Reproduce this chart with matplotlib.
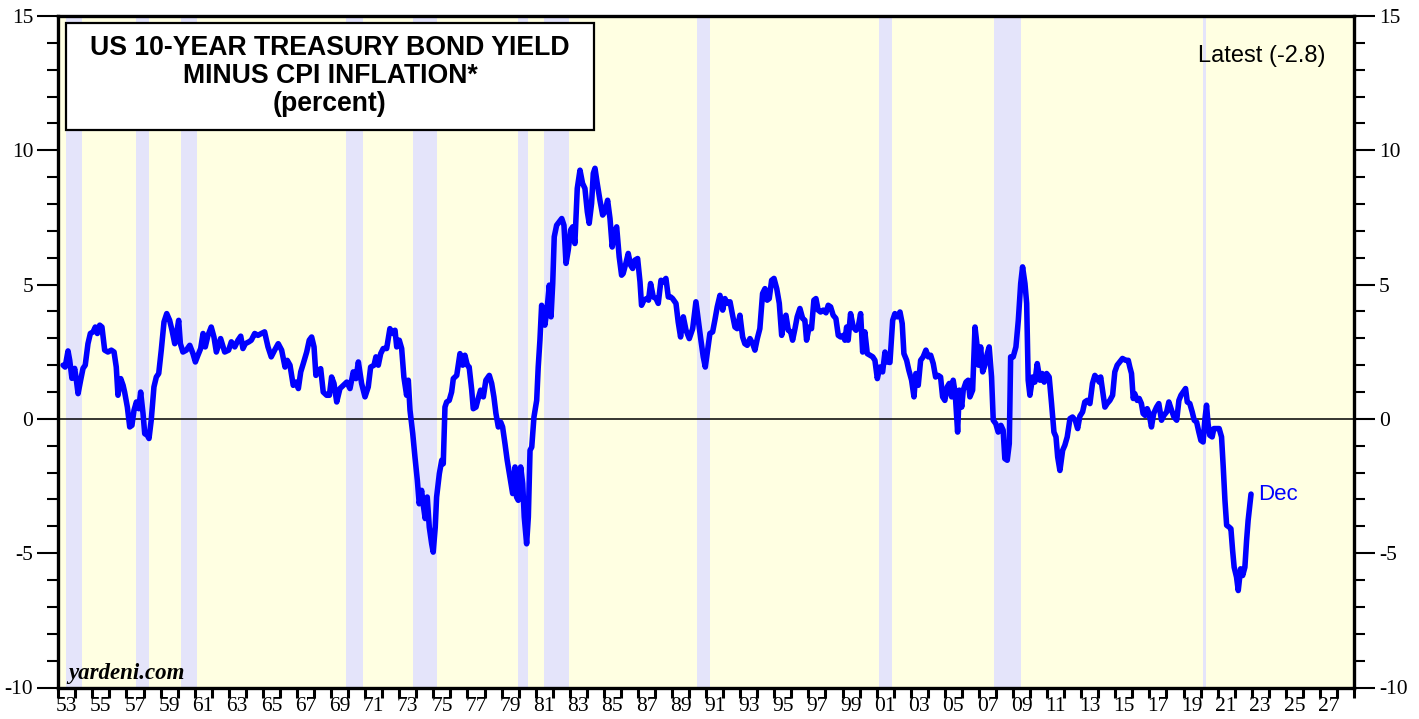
import numpy as np
import matplotlib
matplotlib.use("Agg")
import matplotlib.pyplot as plt
from matplotlib.patches import Rectangle

# ---------------- data ----------------
years = [
    1953.28, 1953.40, 1953.57, 1953.67, 1953.80, 1953.96, 1954.06, 1954.16, 1954.31, 1954.45,
    1954.58, 1954.74, 1954.88, 1955.04, 1955.17, 1955.29, 1955.43, 1955.56, 1955.72, 1955.91,
    1956.11, 1956.27, 1956.40, 1956.50, 1956.66, 1956.80, 1956.89, 1957.05, 1957.19, 1957.32,
    1957.44, 1957.58, 1957.72, 1957.83, 1957.97, 1958.07, 1958.22, 1958.32, 1958.45, 1958.61,
    1958.75, 1958.89, 1959.04, 1959.20, 1959.36, 1959.53, 1959.67, 1959.83, 1959.92, 1960.06,
    1960.16, 1960.31, 1960.51, 1960.71, 1960.90, 1961.04, 1961.19, 1961.35, 1961.49, 1961.62,
    1961.78, 1961.97, 1962.13, 1962.27, 1962.52, 1962.76, 1962.99, 1963.15, 1963.35, 1963.54,
    1963.70, 1963.83, 1963.97, 1964.18, 1964.32, 1964.52, 1964.71, 1964.91, 1965.10, 1965.30,
    1965.49, 1965.69, 1965.90, 1966.10, 1966.30, 1966.43, 1966.59, 1966.78, 1966.94, 1967.08,
    1967.22, 1967.37, 1967.57, 1967.72, 1967.86, 1968.00, 1968.11, 1968.25, 1968.39, 1968.54,
    1968.74, 1968.90, 1969.03, 1969.17, 1969.33, 1969.52, 1969.72, 1969.92, 1970.11, 1970.30,
    1970.46, 1970.60, 1970.79, 1970.99, 1971.18, 1971.32, 1971.52, 1971.63, 1971.77, 1971.91,
    1972.06, 1972.26, 1972.45, 1972.61, 1972.75, 1972.85, 1973.00, 1973.14, 1973.27, 1973.43,
    1973.53, 1973.63, 1973.79, 1973.92, 1974.06, 1974.17, 1974.31, 1974.41, 1974.52, 1974.64,
    1974.76, 1974.90, 1974.99, 1975.11, 1975.19, 1975.35, 1975.49, 1975.58, 1975.68, 1975.78,
    1975.93, 1976.07, 1976.17, 1976.37, 1976.56, 1976.72, 1976.85, 1976.99, 1977.10, 1977.25,
    1977.34, 1977.50, 1977.63, 1977.77, 1977.93, 1978.08, 1978.28, 1978.42, 1978.55, 1978.67,
    1978.81, 1978.95, 1979.06, 1979.20, 1979.33, 1979.49, 1979.65, 1979.79, 1979.88, 1979.98,
    1980.12, 1980.24, 1980.33, 1980.47, 1980.57, 1980.67, 1980.77, 1980.90, 1981.06, 1981.15,
    1981.25, 1981.35, 1981.44, 1981.54, 1981.68, 1981.80, 1981.90, 1982.00, 1982.09, 1982.23,
    1982.39, 1982.53, 1982.66, 1982.78, 1982.91, 1983.05, 1983.17, 1983.30, 1983.44, 1983.60,
    1983.75, 1983.89, 1984.03, 1984.14, 1984.28, 1984.38, 1984.48, 1984.61, 1984.77, 1984.93,
    1985.06, 1985.22, 1985.36, 1985.49, 1985.61, 1985.75, 1985.90, 1986.04, 1986.13, 1986.29,
    1986.43, 1986.57, 1986.69, 1986.82, 1986.98, 1987.12, 1987.21, 1987.35, 1987.51, 1987.62,
    1987.74, 1987.90, 1988.06, 1988.19, 1988.35, 1988.48, 1988.64, 1988.78, 1988.92, 1989.03,
    1989.23, 1989.36, 1989.50, 1989.66, 1989.82, 1990.01, 1990.21, 1990.40, 1990.54, 1990.68,
    1990.83, 1990.95, 1991.06, 1991.22, 1991.38, 1991.51, 1991.65, 1991.81, 1991.97, 1992.10,
    1992.24, 1992.40, 1992.55, 1992.69, 1992.82, 1992.98, 1993.14, 1993.27, 1993.41, 1993.57,
    1993.73, 1993.86, 1994.00, 1994.15, 1994.31, 1994.45, 1994.58, 1994.70, 1994.84, 1994.98,
    1995.14, 1995.29, 1995.43, 1995.57, 1995.68, 1995.82, 1995.96, 1996.07, 1996.21, 1996.34,
    1996.50, 1996.66, 1996.79, 1996.89, 1997.04, 1997.18, 1997.32, 1997.44, 1997.57, 1997.71,
    1997.87, 1998.03, 1998.16, 1998.30, 1998.45, 1998.61, 1998.75, 1998.89, 1999.04, 1999.14,
    1999.24, 1999.33, 1999.47, 1999.63, 1999.79, 1999.92, 2000.06, 2000.18, 2000.31, 2000.45,
    2000.61, 2000.77, 2000.90, 2001.04, 2001.19, 2001.35, 2001.49, 2001.62, 2001.78, 2001.94,
    2002.07, 2002.21, 2002.37, 2002.50, 2002.60, 2002.76, 2002.89, 2003.05, 2003.19, 2003.30,
    2003.44, 2003.58, 2003.73, 2003.89, 2004.03, 2004.17, 2004.32, 2004.46, 2004.61, 2004.75,
    2004.87, 2005.00, 2005.14, 2005.26, 2005.40, 2005.49, 2005.61, 2005.75, 2005.85, 2005.99,
    2006.08, 2006.24, 2006.37, 2006.47, 2006.63, 2006.77, 2006.90, 2006.98, 2007.10, 2007.22,
    2007.35, 2007.49, 2007.60, 2007.74, 2007.84, 2007.99, 2008.13, 2008.29, 2008.42, 2008.52,
    2008.66, 2008.78, 2008.86, 2009.01, 2009.17, 2009.31, 2009.45, 2009.56, 2009.70, 2009.80,
    2009.89, 2009.99, 2010.15, 2010.28, 2010.42, 2010.58, 2010.71, 2010.83, 2010.97, 2011.12,
    2011.26, 2011.40, 2011.52, 2011.62, 2011.75, 2011.91, 2012.04, 2012.18, 2012.34, 2012.49,
    2012.65, 2012.79, 2012.92, 2013.08, 2013.21, 2013.35, 2013.51, 2013.66, 2013.80, 2013.94,
    2014.06, 2014.14, 2014.25, 2014.39, 2014.52, 2014.68, 2014.84, 2014.97, 2015.11, 2015.26,
    2015.42, 2015.61, 2015.76, 2015.85, 2015.95, 2016.05, 2016.14, 2016.28, 2016.40, 2016.53,
    2016.63, 2016.75, 2016.87, 2016.98, 2017.12, 2017.25, 2017.42, 2017.55, 2017.71, 2017.85,
    2018.01, 2018.14, 2018.30, 2018.44, 2018.60, 2018.73, 2018.85, 2018.98, 2019.12, 2019.22,
    2019.37, 2019.51, 2019.63, 2019.77, 2019.90, 2020.02, 2020.15, 2020.25, 2020.35, 2020.44,
    2020.54, 2020.68, 2020.78, 2020.94, 2021.09, 2021.23, 2021.33, 2021.43, 2021.53, 2021.68,
    2021.78, 2021.88, 2021.97, 2022.11, 2022.21, 2022.35, 2022.47, 2022.60, 2022.70, 2022.79,
    2022.96,
]
real_yield = [
    2.00, 1.93, 2.53, 2.18, 1.51, 1.88, 1.44, 0.94, 1.44, 1.88,
    2.00, 2.80, 3.18, 3.24, 3.42, 3.18, 3.49, 3.42, 2.56, 2.49,
    2.56, 2.49, 1.93, 0.88, 1.50, 1.25, 1.00, 0.44, -0.30, -0.24,
    0.32, 0.63, 0.38, 1.00, 0.20, -0.55, -0.61, -0.73, -0.05, 1.19,
    1.56, 1.69, 2.56, 3.61, 3.92, 3.67, 3.30, 2.80, 3.11, 3.67,
    2.80, 2.49, 2.56, 2.74, 2.43, 2.12, 2.37, 2.62, 3.18, 2.68,
    3.11, 3.42, 3.05, 2.49, 2.99, 2.49, 2.56, 2.87, 2.68, 2.93,
    3.08, 2.62, 2.80, 2.87, 2.93, 3.18, 3.11, 3.18, 3.24, 2.68,
    2.31, 2.56, 2.80, 2.56, 1.93, 2.18, 2.00, 1.25, 1.37, 1.13,
    1.75, 2.06, 2.49, 2.93, 3.05, 2.68, 1.62, 1.81, 1.87, 1.00,
    0.88, 0.88, 1.56, 1.32, 0.63, 1.13, 1.25, 1.37, 1.13, 1.75,
    1.50, 2.12, 1.32, 0.82, 1.19, 1.93, 2.00, 2.31, 2.00, 2.43,
    2.62, 2.62, 3.36, 3.18, 3.30, 2.68, 2.93, 2.62, 1.56, 0.88,
    1.44, 0.32, -0.55, -1.42, -2.29, -3.16, -2.66, -3.22, -3.71, -2.91,
    -4.03, -4.65, -4.96, -4.03, -2.91, -2.04, -1.54, -1.67, 0.44, 0.63,
    0.69, 1.00, 1.50, 1.62, 2.43, 2.00, 2.37, 2.00, 1.93, 1.07,
    0.38, 0.44, 0.76, 1.07, 0.82, 1.44, 1.62, 1.32, 0.82, 0.20,
    -0.30, -0.12, -0.30, -0.92, -1.54, -2.16, -2.78, -1.79, -2.91, -3.03,
    -1.79, -2.41, -3.65, -4.65, -3.65, -1.17, -1.05, 0.07, 0.69, 1.93,
    2.93, 4.23, 3.92, 3.49, 4.17, 4.98, 3.80, 5.04, 6.78, 7.21,
    7.34, 7.46, 7.21, 5.79, 6.28, 7.03, 7.15, 6.53, 8.58, 9.26,
    8.77, 8.58, 7.71, 7.28, 8.02, 9.14, 9.33, 8.77, 8.14, 7.59,
    7.71, 8.14, 7.46, 6.40, 6.90, 7.15, 6.03, 5.35, 5.41, 5.79,
    6.16, 5.72, 5.60, 5.91, 5.97, 5.10, 4.23, 4.42, 4.48, 4.42,
    5.04, 4.54, 4.48, 4.30, 5.16, 5.10, 5.23, 4.54, 4.54, 4.48,
    4.30, 3.61, 3.05, 3.80, 3.30, 2.99, 3.36, 4.36, 3.67, 2.99,
    2.31, 1.93, 2.43, 3.18, 3.24, 3.67, 4.17, 4.60, 4.05, 4.48,
    4.30, 4.36, 3.86, 3.42, 3.36, 3.86, 3.05, 2.80, 2.74, 2.99,
    2.80, 2.56, 2.99, 3.36, 4.67, 4.85, 4.42, 4.48, 5.16, 5.23,
    4.85, 4.30, 3.11, 3.67, 3.86, 3.30, 3.24, 2.93, 3.36, 3.80,
    4.11, 3.74, 3.67, 2.93, 3.42, 3.36, 4.42, 4.48, 4.05, 3.98,
    4.05, 3.95, 4.23, 4.17, 3.86, 3.74, 3.11, 3.05, 3.11, 2.93,
    3.42, 2.93, 3.92, 3.42, 3.30, 3.42, 3.92, 2.49, 3.24, 2.43,
    2.37, 2.31, 2.18, 1.50, 1.93, 1.75, 2.49, 2.12, 2.10, 3.67,
    3.92, 3.80, 3.98, 3.55, 2.43, 2.18, 1.81, 1.44, 0.82, 1.69,
    1.25, 2.18, 2.31, 2.56, 2.31, 2.37, 2.06, 1.56, 1.62, 1.56,
    0.82, 0.69, 1.19, 1.32, 0.82, 1.44, 0.94, -0.49, 1.07, 0.44,
    1.07, 1.37, 1.44, 0.82, 1.07, 3.42, 2.68, 2.00, 2.68, 1.75,
    2.00, 2.43, 2.68, 1.56, -0.05, -0.18, -0.49, -0.24, -0.42, -1.48,
    -1.54, -0.92, 2.31, 2.31, 2.68, 3.67, 5.04, 5.66, 5.04, 4.30,
    1.44, 0.88, 1.56, 1.37, 2.06, 1.44, 1.69, 1.37, 1.69, 1.56,
    0.57, -0.49, -0.67, -1.42, -1.92, -1.17, -0.98, -0.67, 0.01, 0.07,
    -0.05, -0.36, 0.10, 0.26, 0.63, 0.69, 0.57, 1.32, 1.62, 1.50,
    1.37, 1.56, 1.07, 0.44, 0.57, 0.69, 0.88, 1.75, 2.00, 2.12,
    2.25, 2.18, 2.18, 1.93, 1.69, 0.76, 0.94, 0.69, 0.76, 0.57,
    0.20, 0.13, 0.38, 0.20, -0.30, 0.20, 0.44, 0.57, -0.05, 0.13,
    0.26, 0.63, 0.32, 0.07, -0.05, 0.69, 0.88, 1.00, 1.13, 0.63,
    0.57, 0.26, -0.05, -0.12, -0.49, -0.80, -0.86, -0.05, 0.51, -0.18,
    -0.61, -0.67, -0.36, -0.36, -0.36, -0.67, -1.79, -3.03, -3.96, -4.03,
    -4.09, -4.90, -5.52, -5.89, -6.39, -5.58, -5.83, -5.52, -4.52, -3.78,
    -2.80,
]

recessions = [
    (1953.45, 1954.38), (1957.57, 1958.32), (1960.21, 1961.13), (1969.87, 1970.85),
    (1973.82, 1975.19), (1979.98, 1980.53), (1981.49, 1982.95), (1990.48, 1991.22),
    (2001.15, 2001.88), (2007.90, 2009.46), (2020.15, 2020.31),
]

xlabel_years = list(range(1953, 2028, 2))
xlabels = [f"{y % 100:02d}" for y in xlabel_years]
yticks = [-10, -5, 0, 5, 10, 15]

title_lines = ["US 10-YEAR TREASURY BOND YIELD", "MINUS CPI INFLATION*", "(percent)"]
latest_text = "Latest (-2.8)"
end_label = "Dec"
source_text = "yardeni.com"

# ---------------- figure ----------------
W, H = 1419, 719
plt.rcParams['axes.unicode_minus'] = False
fig = plt.figure(figsize=(W / 100, H / 100), dpi=100, facecolor='white')

def px(x, y):
    return x / W, 1 - y / H

l, b = px(58.3, 687.5)
r, t = px(1354, 16)
ax = fig.add_axes([l, b, r - l, t - b])
ax.set_facecolor('#FFFFE2')
ax.set_xlim(1953, 2029)
ax.set_ylim(-10, 15)

for s, e in recessions:
    ax.axvspan(s, e, color='#E4E4FA', lw=0, zorder=0.5)

ax.axhline(0, color='black', lw=1.1, zorder=1)
ax.plot(years, real_yield, color='#0000FF', lw=4.0, solid_joinstyle='round',
        solid_capstyle='round', zorder=3)

for sp in ax.spines.values():
    sp.set_linewidth(2.4)
    sp.set_color('black')
    sp.set_zorder(5)

# x ticks: minor ticks every year, labels centred mid-year on odd years
ax.set_xticks(np.arange(1953, 2030), minor=True)
ax.set_xticks([y + 0.5 for y in xlabel_years])
ax.set_xticklabels(xlabels)
ax.tick_params(axis='x', which='major', length=0, pad=7)
ax.tick_params(axis='x', which='minor', length=7, width=2.2, direction='out')
for lab in ax.get_xticklabels():
    lab.set_fontfamily('Liberation Serif')
    lab.set_fontsize(15.5)

# y ticks on both sides
ax.set_yticks(yticks)
ax.set_yticks(np.arange(-10, 16, 1), minor=True)
ax.tick_params(axis='y', which='both', left=True, right=True,
               labelleft=True, labelright=True, direction='out')
ax.tick_params(axis='y', which='major', length=15, width=1.5, pad=3)
ax.tick_params(axis='y', which='minor', length=8, width=1.5)
for lab in ax.get_yticklabels():
    lab.set_fontfamily('Liberation Serif')
    lab.set_fontsize(15.5)

# title box
bx0, by0 = px(66, 130)
bx1, by1 = px(594, 23)
fig.patches.append(Rectangle((bx0, by0), bx1 - bx0, by1 - by0, transform=fig.transFigure,
                             facecolor='white', edgecolor='black', lw=1.6, zorder=10))
for txt, yy in zip(title_lines, [48, 76, 104]):
    fx, fy = px(330, yy)
    fig.text(fx, fy, txt, ha='center', va='center', fontfamily='Liberation Sans',
             fontweight='bold', fontsize=19.2, zorder=11)

fx, fy = px(1325, 56)
fig.text(fx, fy, latest_text, ha='right', va='center', fontfamily='Liberation Sans',
         fontsize=17)

ax.annotate(end_label, xy=(years[-1], real_yield[-1]), xytext=(5, 0),
            textcoords='offset points', ha='left', va='center', color='#0000FF',
            fontfamily='Liberation Sans', fontsize=16)

fx, fy = px(68, 674)
fig.text(fx, fy, source_text, ha='left', va='center', fontfamily='Liberation Serif',
         fontweight='bold', fontstyle='italic', fontsize=16.5)

fig.savefig('out.png', dpi=100, facecolor='white')
